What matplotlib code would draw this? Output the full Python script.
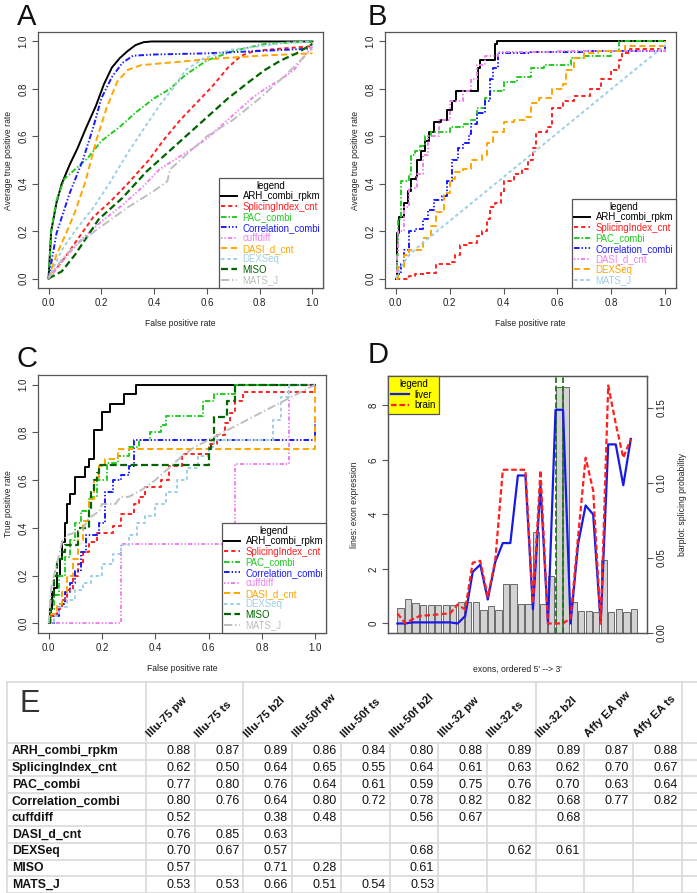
import numpy as np
import matplotlib.pyplot as plt
from matplotlib.lines import Line2D

plt.rcParams['font.family'] = ['Liberation Sans', 'DejaVu Sans']
plt.rcParams['lines.scale_dashes'] = False

W, H = 697, 893

# ---------------- data ----------------
methods_a = ['ARH_combi_rpkm', 'SplicingIndex_cnt', 'PAC_combi', 'Correlation_combi',
             'cuffdiff', 'DASI_d_cnt', 'DEXSeq', 'MISO', 'MATS_J']
methods_b = ['ARH_combi_rpkm', 'SplicingIndex_cnt', 'PAC_combi', 'Correlation_combi',
             'DASI_d_cnt', 'DEXSeq', 'MATS_J']

# panel A: average ROC curves (fpr, tpr)
roc_a = {
    'ARH_combi_rpkm': ([0, 0.01, 0.03, 0.05, 0.08, 0.11, 0.14, 0.18, 0.21, 0.24, 0.27, 0.30, 0.33, 0.36, 0.39, 1.0],
                       [0, 0.20, 0.32, 0.40, 0.48, 0.55, 0.63, 0.73, 0.82, 0.89, 0.93, 0.96, 0.985, 0.997, 1.0, 1.0]),
    'SplicingIndex_cnt': ([0, 0.05, 0.10, 0.17, 0.23, 0.30, 0.38, 0.44, 0.50, 0.56, 0.62, 0.68, 0.73, 0.78, 0.88, 1.0],
                          [0, 0.07, 0.15, 0.26, 0.32, 0.40, 0.50, 0.59, 0.67, 0.74, 0.81, 0.89, 0.94, 0.96, 0.97, 0.98]),
    'PAC_combi': ([0, 0.01, 0.03, 0.06, 0.10, 0.15, 0.20, 0.27, 0.33, 0.40, 0.46, 0.52, 0.60, 0.70, 0.82, 1.0],
                  [0, 0.20, 0.33, 0.42, 0.46, 0.51, 0.58, 0.64, 0.70, 0.76, 0.80, 0.86, 0.92, 0.96, 0.99, 1.0]),
    'Correlation_combi': ([0, 0.03, 0.08, 0.13, 0.17, 0.20, 0.24, 0.28, 0.32, 0.40, 0.60, 0.80, 1.0],
                          [0, 0.19, 0.36, 0.50, 0.64, 0.76, 0.85, 0.91, 0.94, 0.945, 0.95, 0.96, 0.97]),
    'cuffdiff': ([0, 0.05, 0.12, 0.20, 0.28, 0.36, 0.42, 0.49, 0.55, 0.61, 0.67, 0.72, 0.77, 0.82, 0.88, 0.93, 0.97, 1.0],
                 [0, 0.07, 0.16, 0.24, 0.31, 0.39, 0.46, 0.51, 0.55, 0.60, 0.66, 0.71, 0.76, 0.80, 0.84, 0.88, 0.94, 0.98]),
    'DASI_d_cnt': ([0, 0.03, 0.07, 0.10, 0.14, 0.18, 0.22, 0.26, 0.30, 0.35, 0.45, 0.60, 0.80, 1.0],
                   [0, 0.10, 0.20, 0.28, 0.41, 0.58, 0.72, 0.83, 0.88, 0.90, 0.91, 0.925, 0.94, 0.95]),
    'DEXSeq': ([0, 0.05, 0.10, 0.17, 0.23, 0.30, 0.36, 0.42, 0.47, 0.52, 0.59, 0.69, 0.80, 0.90, 1.0],
               [0, 0.12, 0.20, 0.30, 0.40, 0.53, 0.63, 0.73, 0.80, 0.88, 0.93, 0.965, 0.98, 0.995, 1.0]),
    'MISO': ([0, 0.05, 0.10, 0.19, 0.28, 0.37, 0.45, 0.52, 0.60, 0.68, 0.76, 0.82, 0.88, 0.94, 1.0],
             [0, 0.03, 0.10, 0.25, 0.34, 0.45, 0.53, 0.60, 0.68, 0.76, 0.83, 0.88, 0.92, 0.95, 0.99]),
    'MATS_J': ([0, 0.05, 0.10, 0.20, 0.30, 0.40, 0.45, 0.46, 0.52, 0.60, 0.70, 0.80, 0.90, 1.0],
               [0, 0.08, 0.14, 0.22, 0.30, 0.37, 0.41, 0.46, 0.52, 0.60, 0.67, 0.76, 0.86, 0.97]),
}

# panel B: average ROC curves, second data set
roc_b = {
    'ARH_combi_rpkm': ([0, 0.004, 0.006, 0.0125, 0.031, 0.044, 0.056, 0.075, 0.08, 0.094, 0.11, 0.125, 0.143, 0.168,
                        0.19, 0.21, 0.225, 0.305, 0.314, 0.35, 0.37, 0.377, 1.0],
                       [0, 0.05, 0.19, 0.26, 0.32, 0.37, 0.42, 0.43, 0.50, 0.54, 0.58, 0.62, 0.66, 0.67,
                        0.71, 0.75, 0.79, 0.89, 0.92, 0.92, 0.99, 1.0, 1.0]),
    'SplicingIndex_cnt': ([0, 0.05, 0.07, 0.11, 0.15, 0.20, 0.22, 0.24, 0.27, 0.30, 0.32, 0.34, 0.35, 0.37, 0.39, 0.40,
                           0.44, 0.47, 0.49, 0.51, 0.52, 0.56, 0.58, 0.62, 0.66, 0.72, 0.76, 0.80, 0.83, 0.84, 0.87, 1.0],
                          [0, 0.01, 0.02, 0.025, 0.06, 0.07, 0.10, 0.14, 0.15, 0.18, 0.20, 0.25, 0.30, 0.32, 0.36, 0.41,
                           0.44, 0.46, 0.50, 0.55, 0.62, 0.64, 0.72, 0.75, 0.77, 0.80, 0.84, 0.88, 0.92, 0.95, 0.97, 0.99]),
    'PAC_combi': ([0, 0.003, 0.01, 0.02, 0.05, 0.055, 0.07, 0.09, 0.11, 0.13, 0.20, 0.25, 0.28, 0.30, 0.33, 0.35,
                   0.40, 0.45, 0.50, 0.55, 0.65, 0.70, 0.80, 0.83, 1.0],
                  [0, 0.10, 0.25, 0.41, 0.44, 0.52, 0.54, 0.56, 0.60, 0.62, 0.64, 0.65, 0.67, 0.72, 0.76, 0.79,
                   0.83, 0.85, 0.89, 0.90, 0.93, 0.94, 0.96, 1.0, 1.0]),
    'Correlation_combi': ([0, 0.01, 0.02, 0.03, 0.05, 0.07, 0.10, 0.12, 0.14, 0.17, 0.19, 0.21, 0.23, 0.25, 0.27, 0.28,
                           0.30, 0.33, 0.35, 0.36, 0.38, 0.50, 0.70, 1.0],
                          [0, 0.02, 0.06, 0.12, 0.20, 0.21, 0.25, 0.29, 0.33, 0.35, 0.41, 0.50, 0.55, 0.57, 0.61, 0.65,
                           0.70, 0.75, 0.84, 0.89, 0.95, 0.955, 0.96, 0.975]),
    'DASI_d_cnt': ([0, 0.005, 0.01, 0.03, 0.05, 0.08, 0.10, 0.12, 0.16, 0.20, 0.25, 0.28, 0.30, 0.33, 0.38, 0.60, 1.0],
                   [0, 0.10, 0.20, 0.30, 0.38, 0.44, 0.52, 0.60, 0.67, 0.75, 0.79, 0.84, 0.90, 0.94, 0.955, 0.96, 0.975]),
    'DEXSeq': ([0, 0.01, 0.03, 0.05, 0.10, 0.13, 0.15, 0.18, 0.20, 0.22, 0.25, 0.28, 0.32, 0.34, 0.36, 0.40, 0.44,
                0.48, 0.50, 0.53, 0.58, 0.62, 0.63, 0.66, 0.70, 0.75, 0.85, 1.0],
               [0, 0.05, 0.10, 0.12, 0.17, 0.22, 0.28, 0.36, 0.42, 0.45, 0.46, 0.50, 0.52, 0.57, 0.62, 0.66, 0.67,
                0.68, 0.74, 0.76, 0.80, 0.82, 0.88, 0.93, 0.95, 0.96, 0.98, 1.0]),
    'MATS_J': ([0, 0.02, 0.05, 0.10, 1.0],
               [0, 0.05, 0.10, 0.15, 0.985]),
}
step_b = [True, True, True, True, True, True, False]

# panel C: ROC curves of a single comparison
roc_c = {
    'ARH_combi_rpkm': ([0, 0.005, 0.012, 0.019, 0.031, 0.041, 0.05, 0.062, 0.068, 0.081, 0.10, 0.137, 0.15, 0.17,
                        0.20, 0.23, 0.283, 0.328, 1.0],
                       [0, 0.06, 0.13, 0.15, 0.20, 0.27, 0.34, 0.42, 0.50, 0.54, 0.615, 0.655, 0.69, 0.81,
                        0.885, 0.92, 0.96, 1.0, 1.0]),
    'SplicingIndex_cnt': ([0, 0.01, 0.03, 0.05, 0.07, 0.09, 0.11, 0.13, 0.15, 0.18, 0.24, 0.27, 0.32, 0.34, 0.36,
                           0.42, 0.45, 0.50, 0.60, 0.63, 0.66, 0.68, 0.70, 0.73, 1.0],
                          [0, 0.03, 0.06, 0.10, 0.14, 0.20, 0.25, 0.30, 0.34, 0.38, 0.41, 0.46, 0.50, 0.53, 0.57,
                           0.60, 0.66, 0.71, 0.75, 0.79, 0.84, 0.88, 0.93, 0.97, 1.0]),
    'PAC_combi': ([0, 0.01, 0.02, 0.04, 0.06, 0.08, 0.10, 0.12, 0.15, 0.18, 0.22, 0.26, 0.30, 0.34, 0.38, 0.42,
                   0.44, 0.58, 0.62, 0.70, 1.0],
                  [0, 0.06, 0.12, 0.20, 0.28, 0.35, 0.42, 0.47, 0.53, 0.60, 0.67, 0.70, 0.74, 0.77, 0.80, 0.83,
                   0.87, 0.93, 0.96, 1.0, 1.0]),
    'Correlation_combi': ([0, 0.02, 0.04, 0.06, 0.08, 0.10, 0.12, 0.14, 0.19, 0.21, 0.24, 0.27, 0.30, 0.32, 1.0, 1.0],
                          [0, 0.03, 0.08, 0.13, 0.17, 0.22, 0.30, 0.37, 0.42, 0.55, 0.60, 0.62, 0.66, 0.77, 0.77, 0.85]),
    'cuffdiff': ([0, 0.03, 0.27, 0.70, 0.90, 1.0],
                 [0, 0, 0.333, 0.667, 1.0, 1.0]),
    'DASI_d_cnt': ([0, 0.01, 0.03, 0.05, 0.07, 0.09, 0.11, 0.13, 0.15, 0.17, 0.19, 0.21, 0.26, 1.0],
                   [0, 0.04, 0.08, 0.13, 0.20, 0.27, 0.35, 0.43, 0.52, 0.60, 0.66, 0.69, 0.73, 1.0]),
    'DEXSeq': ([0, 0.02, 0.04, 0.07, 0.10, 0.13, 0.16, 0.20, 0.24, 0.27, 0.30, 0.33, 0.36, 0.40, 0.44, 0.48,
                0.52, 0.56, 0.60, 0.62, 0.84, 0.87, 0.90, 1.0],
               [0, 0.03, 0.07, 0.10, 0.14, 0.17, 0.20, 0.25, 0.29, 0.33, 0.37, 0.42, 0.45, 0.50, 0.55, 0.60,
                0.65, 0.70, 0.74, 0.77, 0.85, 0.95, 1.0, 1.0]),
    'MISO': ([0, 0.005, 0.01, 0.02, 0.03, 0.05, 0.06, 0.11, 0.14, 0.15, 0.16, 0.17, 0.18, 0.19, 0.60, 0.61,
              0.62, 0.67, 0.70, 1.0],
             [0, 0.05, 0.10, 0.20, 0.27, 0.30, 0.33, 0.40, 0.40, 0.47, 0.55, 0.60, 0.63, 0.665, 0.73, 0.77,
              0.865, 0.93, 1.0, 1.0]),
    'MATS_J': ([0, 0.01, 0.02, 0.05, 0.07, 0.10, 0.13, 0.15, 0.19, 0.20, 0.25, 0.27, 0.30, 0.35, 0.40, 0.45,
                0.50, 0.55, 0.62, 1.0],
               [0, 0.15, 0.20, 0.34, 0.37, 0.38, 0.40, 0.44, 0.47, 0.50, 0.50, 0.53, 0.53, 0.56, 0.60, 0.65,
                0.70, 0.74, 0.78, 1.0]),
}
step_c = [True, True, True, True, True, True, True, True, False]

# panel D: one gene, per exon
splice_prob = [0.0164, 0.0224, 0.0198, 0.0184, 0.0184, 0.0184, 0.0184, 0.0184, 0.0204, 0.0204, 0.0204,
               0.0153, 0.0178, 0.0153, 0.0329, 0.0329, 0.0191, 0.0191, 0.0676, 0.0191, 0.0378, 0.1638,
               0.1638, 0.0204, 0.0149, 0.0149, 0.0140, 0.0487, 0.0138, 0.0160, 0.0142, 0.0160]
liver = [0, 0, 0.04, 0.04, 0.04, 0.04, 0.04, 0.04, 0, 0.27, 1.89, 2.16, 0.88, 2.26, 2.95, 2.95,
         5.43, 5.43, 0.52, 5.07, 0, 7.84, 7.84, 0, 2.93, 4.33, 4.00, 0, 6.57, 6.57, 5.07, 6.77]
brain = [0.37, 0.02, 0.15, 0.28, 0.30, 0.32, 0.35, 0.37, 0.70, 0.51, 2.23, 2.30, 0.98, 2.32, 5.64, 5.64,
         5.64, 5.64, 0.73, 5.62, 0, 0, 0, 0.20, 3.20, 6.08, 4.88, 0, 8.73, 7.33, 6.08, 6.77]
marked_exons = [21, 22]

# panel E: AUC table
table_cols = ['Illu-75 pw', 'Illu-75 ts', 'Illu-75 b2l', 'Illu-50f pw', 'Illu-50f ts', 'Illu-50f b2l',
              'Illu-32 pw', 'Illu-32 ts', 'Illu-32 b2l', 'Affy EA pw', 'Affy EA ts']
table_rows = ['ARH_combi_rpkm', 'SplicingIndex_cnt', 'PAC_combi', 'Correlation_combi', 'cuffdiff',
              'DASI_d_cnt', 'DEXSeq', 'MISO', 'MATS_J']
auc_arh = [0.88, 0.87, 0.89, 0.86, 0.84, 0.80, 0.88, 0.89, 0.89, 0.87, 0.88]
auc_si = [0.62, 0.50, 0.64, 0.65, 0.55, 0.64, 0.61, 0.63, 0.62, 0.70, 0.67]
auc_pac = [0.77, 0.80, 0.76, 0.64, 0.61, 0.59, 0.75, 0.76, 0.70, 0.63, 0.64]
auc_corr = [0.80, 0.76, 0.64, 0.80, 0.72, 0.78, 0.82, 0.82, 0.68, 0.77, 0.82]
auc_cuff = [0.52, None, 0.38, 0.48, None, 0.56, 0.67, None, 0.68, None, None]
auc_dasi = [0.76, 0.85, 0.63, None, None, None, None, None, None, None, None]
auc_dex = [0.70, 0.67, 0.57, None, None, 0.68, None, 0.62, 0.61, None, None]
auc_miso = [0.57, None, 0.71, 0.28, None, 0.61, None, None, None, None, None]
auc_mats = [0.53, 0.53, 0.66, 0.51, 0.54, 0.53, None, None, None, None, None]
auc_values = [auc_arh, auc_si, auc_pac, auc_corr, auc_cuff, auc_dasi, auc_dex, auc_miso, auc_mats]

# ---------------- style ----------------
colors = ['black', '#ff2020', '#22cc22', '#1a1aff', '#ee82ee', '#ffa500', '#9fcfe6', '#006400', '#bebebe']
styles = ['-', (0, (3, 2.2)), (0, (4, 1.5, 1, 1.5)), (0, (4, 1.5, 1, 1.5, 1, 1.5)),
          (0, (1, 1.5, 1, 1.5, 3, 1.5)), (0, (4.5, 2.5)), (0, (2.5, 2)), (0, (5, 2.5)), (0, (6, 2, 1, 2))]
frame_col = '#555555'


def rect(l, t, r, b):
    return [l / W, 1 - b / H, (r - l) / W, (b - t) / H]


def style_axes(ax):
    for sp in ax.spines.values():
        sp.set_color(frame_col)
        sp.set_linewidth(0.9)
    ax.tick_params(length=4.3, width=0.8, color=frame_col, pad=2.6, labelsize=7, labelcolor='#222')


def roc_panel(ax, curves, names, steps, ylabel):
    for i, name in enumerate(names):
        x, y = curves[name]
        kw = dict(color=colors[i], ls=styles[i], lw=1.4 if i != 7 else 1.6, label=name)
        if steps[i]:
            ax.step(x, y, where='post', **kw)
        else:
            ax.plot(x, y, **kw)
    ax.set_xlim(-0.04, 1.04)
    ax.set_ylim(-0.04, 1.04)
    ticks = np.arange(0, 1.01, 0.2)
    ax.set_xticks(ticks)
    ax.set_yticks(ticks)
    ax.set_xticklabels(['%.1f' % t for t in ticks])
    ax.set_yticklabels(['%.1f' % t for t in ticks], rotation=90, va='center')
    style_axes(ax)
    ax.set_xlabel('False positive rate', fontsize=6.2, labelpad=8.5, color='#222')
    ax.set_ylabel(ylabel, fontsize=6.2, labelpad=4, color='#222')
    leg = ax.legend(title='legend', loc='lower right', borderaxespad=0, fontsize=6.9, title_fontsize=6.9,
                    fancybox=False, framealpha=1, edgecolor=frame_col, handlelength=1.6,
                    handletextpad=0.6, labelspacing=0.05, borderpad=0.3)
    leg.get_frame().set_linewidth(0.9)
    for txt, ln in zip(leg.get_texts(), leg.get_lines()):
        txt.set_color(ln.get_color())


fig = plt.figure(figsize=(W / 100, H / 100), dpi=100)

# table canvas (pixel coordinates)
ax_t = fig.add_axes([0, 0, 1, 1])
ax_t.set_xlim(0, W)
ax_t.set_ylim(H, 0)
ax_t.axis('off')

ax_a = fig.add_axes(rect(38, 32, 323, 288))
roc_panel(ax_a, roc_a, methods_a, [False] * 9, 'Average true positive rate')

ax_b = fig.add_axes(rect(385, 32, 676, 288))
roc_panel(ax_b, roc_b, methods_b, step_b, 'Average true positive rate')

ax_c = fig.add_axes(rect(38, 375, 326, 633))
roc_panel(ax_c, roc_c, methods_a, step_c, 'True positive rate')

# panel D
ax_bar = fig.add_axes(rect(388, 376, 647, 633))
ax_ln = ax_bar.twinx()
n = len(splice_prob)
pos = np.arange(n)
ax_bar.bar(pos, splice_prob, width=1 / 1.2, align='edge', color='#d3d3d3', edgecolor='#555555', lw=0.6)
ax_bar.set_ylim(0, max(splice_prob) * 1.045)
ax_bar.set_xlim(-1.25, n + 1.15)
ax_bar.set_xticks([])
ax_bar.yaxis.tick_right()
ax_bar.yaxis.set_label_position('right')
ax_bar.set_yticks([0, 0.05, 0.10, 0.15])
ax_bar.set_yticklabels(['0.00', '0.05', '0.10', '0.15'], rotation=90, va='center')
style_axes(ax_bar)
ax_bar.set_ylabel('barplot: splicing probability', fontsize=6.2, labelpad=8, color='#222')
fig.text(517.5 / W, 1 - 669 / H, "exons, ordered 5' --> 3'", fontsize=6.2, color='#222',
         ha='center', va='center')

for e in marked_exons:
    ax_ln.axvline(e, color='#1b7a1b', ls=(0, (4, 2)), lw=1.3)
ax_ln.plot(pos, liver, color='#1a1ae6', lw=1.6)
ax_ln.plot(pos, brain, color='#ff2020', lw=1.6, ls=(0, (4, 2)))
top = max(max(liver), max(brain))
ax_ln.set_ylim(-0.04 * top, 1.04 * top)
ax_ln.yaxis.tick_left()
ax_ln.yaxis.set_label_position('left')
ax_ln.set_yticks([0, 2, 4, 6, 8])
ax_ln.set_yticklabels(['0', '2', '4', '6', '8'], rotation=90, va='center')
style_axes(ax_ln)
ax_ln.set_ylabel('lines: exon expression', fontsize=6.2, labelpad=7, color='#222')
handles = [Line2D([], [], color='#1a1ae6', lw=1.6), Line2D([], [], color='#ff2020', lw=1.6, ls=(0, (4, 2)))]
leg = ax_ln.legend(handles, ['liver', 'brain'], title='legend', loc='upper left', borderaxespad=0,
                   fontsize=6.9, title_fontsize=6.9, fancybox=False, framealpha=1, facecolor='#ffff00',
                   edgecolor=frame_col, handlelength=1.8, handletextpad=0.6, labelspacing=0.05,
                   borderpad=0.35)
leg.get_frame().set_linewidth(0.9)

# panel letters
for letter, (lx, ly) in zip('ABCD', [(17, 25), (368, 25), (17, 367), (368, 363)]):
    fig.text(lx / W, 1 - ly / H, letter, fontsize=21, color='#111', va='baseline', ha='left')

# ---------------- table E ----------------
grid_col = '#d9d9d9'
t_left, t_top, t_head = 7, 682, 743
lab_right = 146
col_w = 48.7
row_h = (H - t_head) / len(table_rows)
col_edges = [lab_right + col_w * k for k in range(len(table_cols) + 1)]

ax_t.plot([t_left, W], [t_top, t_top], color=grid_col, lw=1.2)
for k in range(len(table_rows) + 1):
    yy = t_head + k * row_h
    ax_t.plot([t_left, W], [yy, yy], color=grid_col, lw=1.2)
for xx in [t_left] + col_edges:
    ax_t.plot([xx, xx], [t_head, H], color=grid_col, lw=1.2)
for xx in [t_left, lab_right, col_edges[2], col_edges[8], col_edges[-1]]:
    ax_t.plot([xx, xx], [t_top, t_head], color=grid_col, lw=1.2)

ax_t.text(19, 712, 'E', fontsize=22, color='#333', va='baseline', ha='left',
          family=['Liberation Sans Narrow', 'Liberation Sans'])

for j, name in enumerate(table_cols):
    ax_t.text(col_edges[j] + 6, t_head - 4, name, rotation=45, rotation_mode='anchor',
              ha='left', va='bottom', fontsize=8.2, fontweight='bold', color='#111')

for i, (name, vals) in enumerate(zip(table_rows, auc_values)):
    yc = t_head + (i + 0.5) * row_h
    ax_t.text(12, yc, name, ha='left', va='center', fontsize=8.8, fontweight='bold', color='#111')
    for j, v in enumerate(vals):
        if v is not None:
            ax_t.text(col_edges[j + 1] - 4, yc, '%.2f' % v, ha='right', va='center', fontsize=9, color='#111')

fig.savefig('out.png', dpi=100)
